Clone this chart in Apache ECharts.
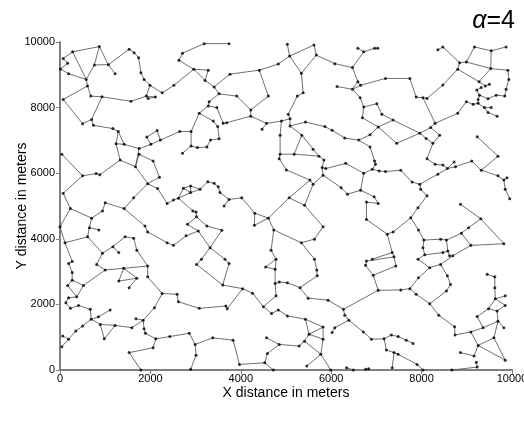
<!DOCTYPE html>
<html>
<head>
<meta charset="utf-8">
<script src="https://cdn.jsdelivr.net/npm/echarts@6/dist/echarts.min.js"></script>
<style>
  html, body { margin: 0; padding: 0; background: #fff; }
  #chart { width: 524px; height: 430px; }
</style>
</head>
<body>
<div id="chart"></div>
<script>
// node positions in meters, each path is a chain of linked nodes
const pathsNorthWest = [
  [[10,9180],[170,9350],[70,9500],[280,9700],[870,9860],[1070,9310],[1220,9030]],
  [[870,9860],[760,9300],[580,8860]],
  [[760,9300],[1070,9310]],
  [[280,9700],[580,8860]],
  [[10,9180],[190,9030],[580,8860],[610,8660],[680,8350],[930,8330],[1570,8190],[1910,8350],[1990,8680],[2260,8450],[2520,8680]],
  [[1910,8350],[1950,8280],[2110,8320],[1910,8350]],
  [[1070,9310],[1530,9780],[1640,9670],[1740,9520],[1790,9060],[1860,8860],[1990,8680]],
  [[610,8660],[70,8250],[500,7510],[700,7640],[930,8330]],
  [[700,7640],[740,7460],[1170,7360],[1290,7270],[1240,6900],[1420,6880],[1750,6750],[2010,6880],[2220,7010],[2650,7270]],
  [[1290,7270],[1420,6880]],
  [[2010,6880],[1920,7100],[2150,7300],[2220,7010]]
];

const pathsNorth = [
  [[3740,9950],[3190,9950],[2710,9660],[2630,9440],[2960,9170],[2520,8680]],
  [[2960,9170],[3280,9140],[3210,8830],[2960,9170]],
  [[3210,8830],[3410,8630],[3760,9020],[4410,9140],[4830,9330],[5080,9570]],
  [[4410,9140],[4610,8350],[4220,7930],[4220,7740]],
  [[3410,8630],[3520,8420],[3910,8350],[4220,7930]],
  [[3520,8420],[3300,8180],[3280,8050],[3470,8000],[3610,7520],[3690,7540],[4220,7740],[4570,7520],[4900,7590]],
  [[4570,7520],[4470,7340]],
  [[3280,8050],[3080,7830],[3390,7590],[3490,7420],[3520,7050],[3330,7010],[3250,6800],[3040,6780],[2900,6830],[2900,7270],[3080,7830]],
  [[2900,7270],[2650,7270]],
  [[4900,7590],[4870,7160],[4870,6580],[4850,6440],[5010,6100]]
];

const pathsNorthEast = [
  [[5030,9930],[5080,9570],[5620,9910],[5670,9600],[5340,9050],[5080,9570]],
  [[5670,9600],[6080,9340],[6470,9220],[6720,9700],[6590,9810]],
  [[6720,9700],[6960,9810],[7030,9810]],
  [[6470,9220],[6590,8790],[6650,8680],[6470,8560],[6590,8790]],
  [[6470,8560],[6130,8640]],
  [[6650,8680],[7200,8890],[7740,8890],[7880,8320],[8030,8300],[8120,8280],[8470,8690],[8800,9170]],
  [[6470,8560],[6640,8300],[6720,8020],[7010,8120],[7120,7800],[7370,7620],[7960,7220]],
  [[6720,8020],[6690,7690],[7040,7410],[7370,7620]],
  [[7040,7410],[6860,7170],[6610,7010],[6860,6800]],
  [[6610,7010],[6300,7070],[6020,7310],[5860,7420],[5430,7560],[5090,7440]],
  [[7040,7410],[7450,6910],[7960,7220]],
  [[5340,9050],[5380,8450],[5250,8350],[5050,7800],[5090,7660],[5090,7440]],
  [[5090,7440],[5350,7160],[5600,6730],[5730,6520]],
  [[4900,7590],[5090,7660]],
  [[5350,7160],[5180,6580]]
];

const pathsFarNorthEast = [
  [[8360,9760],[8470,9850],[8840,9370],[8990,9390],[9170,9850],[9540,9730],[9870,9850]],
  [[9540,9730],[9530,9190],[8990,9390]],
  [[9530,9190],[9910,9140],[9930,8860],[9870,8560],[9840,8350],[9650,8380],[9470,8270],[9280,8380]],
  [[8840,9370],[8800,9170],[9270,8790],[9530,9190]],
  [[9270,8790],[9410,8660],[9500,8710]],
  [[8030,8300],[8300,7520],[8800,7830],[8990,8180],[9140,8100],[9250,8130]],
  [[9280,8380],[9220,8540],[9320,8610]],
  [[9250,8130],[9250,8250],[9280,8380]],
  [[9250,8130],[9390,8000],[9540,8000]],
  [[9390,8000],[9470,7850],[9670,7740]],
  [[8300,7520],[8200,7390],[8400,7160],[8250,6910],[8100,7060],[7960,7220],[8200,7390]]
];

const pathsWest = [
  [[40,6580],[500,5920],[800,5990],[880,5950],[1330,6400],[1240,6900]],
  [[1330,6400],[1670,6200],[1750,6750]],
  [[1670,6200],[1940,5680],[2200,5880],[2060,6370],[1750,6580],[1670,6200]],
  [[1940,5680],[2160,5530],[2370,5080],[2510,5180],[2620,5240]],
  [[500,5920],[70,5390],[230,4920],[0,4370],[110,3880],[610,4060],[650,4340],[860,4270]],
  [[650,4340],[700,4630],[230,4920]],
  [[700,4630],[940,4850],[1000,5100],[1420,4920],[1630,5250],[1940,5680]],
  [[1420,4920],[1880,4390],[1940,4210],[2370,3880],[2510,3800]],
  [[610,4060],[940,3560],[1170,3760],[1440,4060],[1630,4020],[1700,3650]],
  [[1170,3760],[1300,3580]],
  [[110,3880],[270,3310]]
];

const pathsCentre = [
  [[2710,6610],[2900,6830]],
  [[2620,5240],[2730,5540],[2890,5610],[3100,5510],[2890,5410],[2730,5540]],
  [[2890,5610],[2890,5410]],
  [[2620,5240],[2890,5410]],
  [[3100,5510],[3270,5740],[3410,5690],[3500,5590],[3540,5410],[3740,5200],[4020,5250],[4310,4780],[4610,4630],[4300,4410],[4310,4780]],
  [[3740,5200],[3630,5000]],
  [[4610,4630],[5070,5250]],
  [[4610,4630],[4730,4270],[5340,3880]],
  [[4730,4270],[4670,3650],[4780,3380]],
  [[2620,5240],[2940,4850],[3010,4820],[3020,4670],[2820,4440],[3060,4240],[3320,3730]],
  [[3020,4670],[3250,4390],[3580,4260],[3320,3730]],
  [[3060,4240],[2790,4090],[2510,3800]],
  [[3320,3730],[3130,3380],[3020,3220]],
  [[3320,3730],[3650,3380],[3740,3250]]
];

const pathsCentreEast = [
  [[4870,6580],[5180,6580],[5730,6520],[5840,6400],[5800,6170],[5880,6140],[6320,6300],[6720,6000],[6910,6120],[6980,6270],[6960,6370],[6860,6800]],
  [[6910,6120],[7060,6070],[7200,6050],[7540,6090]],
  [[5800,6170],[5820,5940],[6220,5560],[6360,5360],[6650,5480],[6720,6000]],
  [[5820,5940],[5600,5660],[5530,5790],[5010,6100]],
  [[5530,5790],[5070,5250],[5410,5020],[5600,5660]],
  [[5410,5020],[5820,4370],[5630,3990],[5340,3880],[5630,3380]],
  [[6650,5480],[6950,5280],[7040,5080],[6780,5120],[6780,4590],[7240,4140],[7370,4210],[7760,4640]],
  [[7240,4140],[7350,3580],[6910,3380]],
  [[7350,3580],[7390,3450]]
];

const pathsEast = [
  [[8250,6910],[8120,6440],[8300,6270],[8470,6250],[8570,6140],[8750,6200],[9110,6370],[9320,6090],[9690,6520],[9230,7110]],
  [[8570,6140],[8720,6340]],
  [[9320,6090],[9690,5920],[9820,5790],[9890,5860]],
  [[9820,5790],[9850,5510],[9950,5220]],
  [[8570,6140],[8360,5970],[7960,5660],[7790,5730],[7540,6090]],
  [[7960,5660],[7980,5510],[8120,5310],[7920,4950],[7760,4640]],
  [[7760,4640],[7930,4270],[8050,3960],[8030,3730],[8070,3510],[7920,3380]],
  [[8050,3960],[8420,3990],[8550,3960],[8880,4170],[9040,4340],[9310,4610],[8860,5050]],
  [[9310,4610],[9820,3850],[9090,3800],[8880,4170]],
  [[9090,3800],[8690,3480]],
  [[8550,3960],[8580,3630],[8620,3480]],
  [[8070,3510],[8470,3580],[8580,3630]]
];

const pathsSouthWest = [
  [[270,3310],[190,3250],[270,2970],[270,2740],[170,2580],[370,2230],[520,2580],[270,2740]],
  [[520,2580],[1000,3050],[810,3220],[940,3560]],
  [[1000,3050],[1410,3100],[1300,2710],[1700,2800],[1410,3100]],
  [[1700,2800],[1530,2510]],
  [[1410,3100],[1940,3170],[1940,2840],[2260,2330],[2090,1900],[1840,1520],[1680,1560]],
  [[1940,3170],[1700,3650]],
  [[1840,1520],[1860,1260],[1890,1120],[2120,950],[2060,680],[1530,530],[1790,0]],
  [[1840,1520],[1590,1290],[1220,1360],[890,1390],[980,950],[1220,1360]],
  [[890,1390],[690,1550],[850,1620],[1110,1830]],
  [[690,1550],[500,1340],[350,1190],[190,940],[40,710]],
  [[190,940],[60,1040]],
  [[690,1550],[670,1850],[410,1970],[230,1880],[130,2050],[190,2200],[370,2230]],
  [[2260,2330],[2590,2310]]
];

const pathsSouth = [
  [[3020,3220],[3600,2590],[3740,3250]],
  [[3600,2590],[4040,2480],[4260,2340],[4500,1930],[4780,2260],[4760,2640],[4850,2680]],
  [[4760,2640],[4760,3070],[4780,3380],[4550,3140],[4760,3070]],
  [[4500,1930],[4680,1720],[4830,1830],[5030,1650],[5430,1550]],
  [[4040,2480],[3700,1870],[3670,1950],[3080,1880],[2620,2080],[2590,2310]],
  [[2120,950],[2430,1020],[2860,1120],[2990,780],[3380,980],[3830,910],[3970,170],[4530,220],[4590,500],[4850,780],[4570,980]],
  [[2990,780],[3010,450],[2890,20]],
  [[4530,220],[4720,0]],
  [[4850,780],[5290,730]],
  [[4850,2680],[5030,2660]]
];

const pathsSouthEast = [
  [[5630,3380],[5680,3050],[5690,2870],[5310,2510],[5030,2660]],
  [[5310,2510],[5490,2190],[5930,2130],[6270,1850],[6300,1670],[6390,1520],[6080,1290],[6020,1140]],
  [[6390,1520],[6710,1160],[6890,940],[7170,950],[7330,1070]],
  [[7170,950],[7220,610],[7390,530],[7350,70]],
  [[6270,1850],[7040,2430],[6930,2890],[6760,3190],[6780,3320],[7390,3450],[7430,3170],[6930,2890]],
  [[7040,2430],[7540,2440]],
  [[5430,1550],[5820,1310],[5510,1090],[5430,1550]],
  [[5510,1090],[5820,940],[5820,1310]],
  [[5510,1090],[5410,880],[5290,730]],
  [[5820,940],[5770,480],[5990,0]],
  [[5410,880],[5770,480]],
  [[5770,480],[5460,120]],
  [[6340,70],[6490,0]],
  [[6760,20],[6830,40]]
];

const pathsFarSouthEast = [
  [[7920,3380],[8180,3120],[8420,3220],[8690,3480]],
  [[8180,3120],[7930,2810],[7740,2480],[7540,2440]],
  [[7740,2480],[7880,2310],[8180,2020],[8550,2410],[8640,2610],[8570,2870],[8420,3220]],
  [[8180,2020],[8380,1670],[8730,1320],[8740,1070],[9090,1160],[9250,750],[9160,430],[8860,530]],
  [[9250,750],[9850,300],[9600,980],[9250,750]],
  [[9090,1160],[9360,1290],[9690,1490],[9820,1290]],
  [[9360,1290],[9230,1630],[9480,1870],[9630,2170],[9620,2510],[9620,2840],[9450,2920]],
  [[9630,2170],[9850,2260]],
  [[9630,2170],[9850,1970],[9670,1800]],
  [[9480,1870],[9670,1800],[9690,1490],[9600,980]],
  [[7330,1070],[7480,1020],[7660,910],[7810,810]],
  [[7390,530],[7480,480],[7900,170],[8030,0]],
  [[8670,0],[9230,90],[9210,240]]
];

const axisMax = 10000;
const tickStep = 2000;
const xAxisTitle = "X distance in meters";
const yAxisTitle = "Y distance in meters";
const alphaValue = "4";

const allPaths = [].concat(
  pathsNorthWest, pathsNorth, pathsNorthEast, pathsFarNorthEast,
  pathsWest, pathsCentre, pathsCentreEast, pathsEast,
  pathsSouthWest, pathsSouth, pathsSouthEast, pathsFarSouthEast
);

// unique node list from the path chains
const seen = {};
const nodes = [];
allPaths.forEach((p) => {
  p.forEach((pt) => {
    const key = pt[0] + "," + pt[1];
    if (!seen[key]) {
      seen[key] = true;
      nodes.push(pt);
    }
  });
});

const chart = echarts.init(document.getElementById("chart"));

const axisCommon = {
  type: "value",
  min: 0,
  max: axisMax,
  interval: tickStep,
  nameMoveOverlap: false,
  splitLine: { show: false },
  axisLine: { show: true, lineStyle: { color: "#808080", width: 2 } },
  axisTick: { show: true, inside: false, length: 4, lineStyle: { color: "#808080", width: 1 } },
  axisLabel: {
    color: "#000",
    fontSize: 11,
    fontFamily: "Liberation Sans",
    formatter: (v) => String(v),
  },
  nameTextStyle: { color: "#000", fontSize: 14, fontFamily: "Liberation Sans" },
};

chart.setOption({
  animation: false,
  backgroundColor: "#fff",
  title: {
    text: "{a|α}{b|=" + alphaValue + "}",
    right: 4,
    top: 4,
    textStyle: {
      fontWeight: "normal",
      rich: {
        a: { fontSize: 25, fontStyle: "italic", fontWeight: "normal", fontFamily: "Liberation Sans", color: "#000" },
        b: { fontSize: 25, fontWeight: "normal", fontFamily: "Liberation Sans", color: "#000" },
      },
    },
  },
  grid: { left: 60, right: 12, top: 42, bottom: 60, containLabel: false, outerBoundsMode: "none" },
  xAxis: Object.assign({}, axisCommon, {
    name: xAxisTitle,
    nameLocation: "middle",
    nameGap: 16,
    axisLabel: Object.assign({}, axisCommon.axisLabel, { margin: 3 }),
  }),
  yAxis: Object.assign({}, axisCommon, {
    name: yAxisTitle,
    nameLocation: "middle",
    nameGap: 31,
    axisLabel: Object.assign({}, axisCommon.axisLabel, { margin: 5 }),
  }),
  series: [
    {
      type: "lines",
      coordinateSystem: "cartesian2d",
      polyline: true,
      silent: true,
      lineStyle: { color: "#4a4a4a", width: 0.8, opacity: 1 },
      data: allPaths.map((p) => ({ coords: p })),
    },
    {
      type: "scatter",
      silent: true,
      symbolSize: 3,
      itemStyle: { color: "#000" },
      data: nodes,
    },
  ],
});
</script>
</body>
</html>
